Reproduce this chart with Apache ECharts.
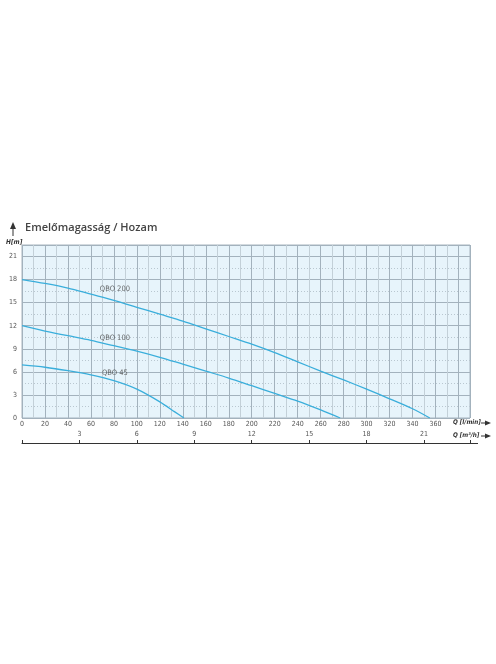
<!DOCTYPE html>
<html><head><meta charset="utf-8">
<script src="https://cdn.jsdelivr.net/npm/echarts@6/dist/echarts.min.js"></script>
<style>html,body{margin:0;padding:0;background:#fff}#c{width:496px;height:664px}</style>
</head><body><div id="c"></div>
<script>
const title = 'Emelőmagasság / Hozam';
const yName = 'H[m]';
const xName1 = 'Q [l/min]';
const xName2 = 'Q [m³/h]';
const q200 = [0,20,40,60,80,100,120,140,160,180,200,220,240,260,280,300,320,340,355];
const h200 = [18,17.5,16.9,16.1,15.3,14.4,13.5,12.6,11.6,10.6,9.6,8.5,7.3,6.1,4.95,3.75,2.5,1.2,0];
const q100 = [0,20,40,60,80,100,120,140,160,180,200,220,240,260,277];
const h100 = [12,11.3,10.7,10.1,9.4,8.7,7.9,7.0,6.1,5.2,4.2,3.2,2.2,1.05,0];
const q45 = [0,20,40,60,80,100,120,133,141];
const h45 = [6.9,6.6,6.15,5.6,4.85,3.75,2.1,0.8,0];
const names = ['QBO 200','QBO 100','QBO 45'];
const labelQ = 80;
const lineColor = '#3aaedb';

function ser(q,h,name){
  return {type:'line', name:name, data:q.map((x,i)=>[x,h[i]]), smooth:0.3,
    showSymbol:false, symbol:'none', lineStyle:{color:lineColor, width:1.3}};
}
const dist = [7,3,3];
const labelData = [[q200,h200],[q100,h100],[q45,h45]].map(([q,h],k)=>({
  value:[labelQ, h[q.indexOf(labelQ)]], name:names[k], label:{distance:dist[k]}}));
const chart = echarts.init(document.getElementById('c'));
const lab = {fontSize:7, color:'#555', fontFamily:'DejaVu Sans Condensed, sans-serif'};
chart.setOption({
  animation:false,
  grid:{left:22, top:245, right:26, bottom:246, show:true, backgroundColor:'#e7f4fb', borderColor:'#a6b4be', borderWidth:1},
  xAxis:[{
    type:'value', min:0, max:390, interval:20, position:'bottom',
    axisLine:{show:false}, axisTick:{show:false},
    axisLabel:{...lab, margin:3, formatter:v=> v<=360 ? String(v) : ''},
    splitLine:{show:true, lineStyle:{color:'#a3b2bd', width:1}},
    minorTick:{show:false, splitNumber:2},
    minorSplitLine:{show:true, lineStyle:{color:'#c3d0d8', width:1}}
  },{
    type:'value', min:0, max:23.4, interval:3, position:'bottom', offset:25,
    axisLine:{show:true, lineStyle:{color:'#333', width:1}},
    axisTick:{show:true, inside:true, length:3, lineStyle:{color:'#333'}},
    axisLabel:{...lab, inside:true, margin:5, formatter:v=> (v>0 && v<=21) ? String(v) : ''},
    splitLine:{show:false}
  }],
  yAxis:{
    type:'value', min:0, max:22.5, interval:3,
    axisLine:{show:false}, axisTick:{show:false},
    axisLabel:{...lab, margin:5, formatter:v=> v<=21 ? String(v) : ''},
    splitLine:{show:true, lineStyle:{color:'#a3b2bd', width:1}},
    minorTick:{show:false, splitNumber:2},
    minorSplitLine:{show:true, lineStyle:{color:'#b9c7d0', width:1, type:[1,2]}}
  },
  series:[ ser(q200,h200,names[0]), ser(q100,h100,names[1]), ser(q45,h45,names[2]),
    {type:'scatter', data:labelData, symbol:'circle', symbolSize:1, itemStyle:{color:'rgba(0,0,0,0)'},
     silent:true, z:5,
     label:{show:true, formatter:'{b}', position:'top', offset:[1,0],
       fontSize:7.5, color:'#444', fontFamily:'Liberation Sans Narrow, DejaVu Sans Condensed, sans-serif'}}
  ],
  graphic:[
    {type:'text', left:25, top:222, style:{text:title, fontSize:11, fontWeight:600, fill:'#444', fontFamily:'Open Sans, sans-serif'}},
    {type:'line', shape:{x1:13, y1:227, x2:13, y2:236}, style:{stroke:'#333', lineWidth:1}},
    {type:'polygon', shape:{points:[[10,229],[13,222],[16,229]]}, style:{fill:'#333'}},
    {type:'text', left:6, top:239, style:{text:yName, fontSize:6.5, fontStyle:'italic', fontWeight:'bold', fill:'#333', fontFamily:'DejaVu Sans Condensed, sans-serif'}},
    {type:'text', left:453, top:419, style:{text:xName1, fontSize:6.3, fontStyle:'italic', fontWeight:'bold', fill:'#333', fontFamily:'DejaVu Sans Condensed, sans-serif'}},
    {type:'text', left:453, top:432, style:{text:xName2, fontSize:6.3, fontStyle:'italic', fontWeight:'bold', fill:'#333', fontFamily:'DejaVu Sans Condensed, sans-serif'}},
    {type:'line', shape:{x1:481, y1:423, x2:486, y2:423}, style:{stroke:'#333', lineWidth:1}},
    {type:'polygon', shape:{points:[[485,420.5],[491,423],[485,425.5]]}, style:{fill:'#333'}},
    {type:'line', shape:{x1:481, y1:436, x2:486, y2:436}, style:{stroke:'#333', lineWidth:1}},
    {type:'polygon', shape:{points:[[485,433.5],[491,436],[485,438.5]]}, style:{fill:'#333'}},
    {type:'line', shape:{x1:470, y1:443.5, x2:478, y2:443.5}, style:{stroke:'#333', lineWidth:1}}
  ]
});
</script></body></html>
